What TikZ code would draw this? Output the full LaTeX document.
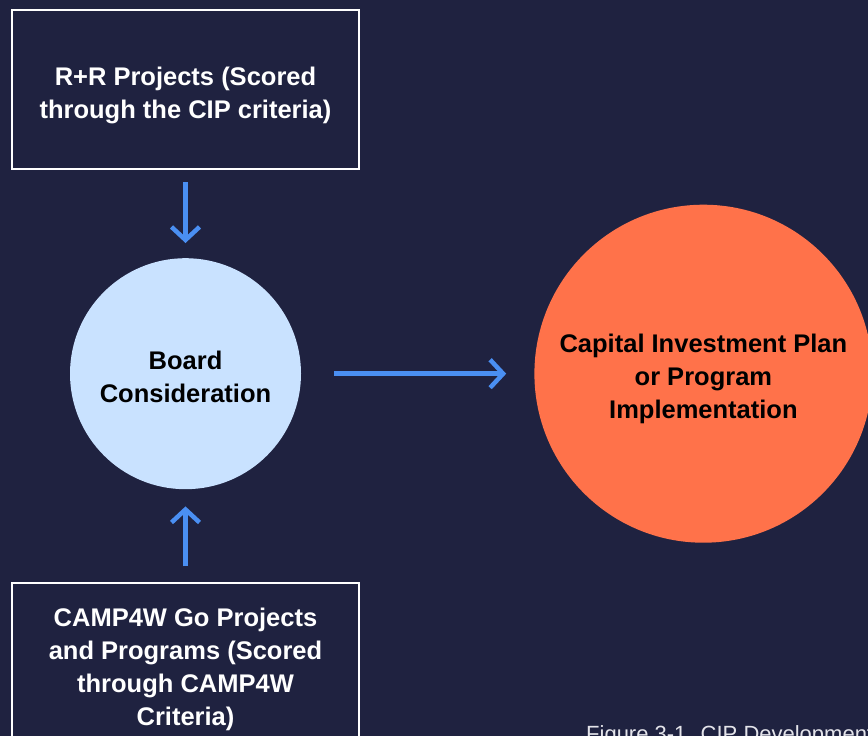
\documentclass[tikz,border=0pt]{standalone}
\usepackage{fontspec}
\setmainfont{Liberation Sans}
\usepackage{xcolor}
\usetikzlibrary{arrows.meta,positioning}
\definecolor{bgnavy}{HTML}{1F2240}
\definecolor{arrblue}{HTML}{4A8FF2}
\definecolor{boardblue}{HTML}{C9E2FF}
\definecolor{ciporange}{HTML}{FF724A}
\definecolor{capgray}{HTML}{E4E4EA}
\tikzset{
  inbox/.style={draw=white, line width=2pt, fill=bgnavy, align=center, text=white, font=\bfseries\fontsize{25.5}{33}\selectfont, minimum width=347pt, inner sep=0pt},
  stagecirc/.style={circle, align=center, text=black, font=\bfseries\fontsize{25.5}{33}\selectfont, inner sep=0pt},
  flowarr/.style={-{Straight Barb[length=13pt, width=28pt, line width=4.5pt]}, arrblue, line width=4.5pt}
}

\begin{document}
\begin{tikzpicture}[x=1pt, y=-1pt]
\fill[bgnavy] (0,0) rectangle (868,736);
\useasboundingbox (0,0) rectangle (868,736);
\clip (0,0) rectangle (868,736);
\node[inbox, minimum height=159pt, text height=63pt] (rr) at (185.5,89.5) {R+R Projects (Scored\\through the CIP criteria)};
\node[stagecirc, fill=boardblue, minimum size=231pt, text height=57pt, below=88pt of rr] (board) {Board\\Consideration};
\node[inbox, minimum height=172pt, below=93pt of board] (camp) {CAMP4W Go Projects\\and Programs (Scored\\through CAMP4W\\Criteria)};
\node[stagecirc, fill=ciporange, minimum size=338pt, text height=94pt, right=233pt of board] (cip) {Capital Investment Plan\\or Program\\Implementation};
\draw[flowarr, shorten <=12pt, shorten >=15pt] (rr) -- (board);
\draw[flowarr, shorten <=16pt, shorten >=17pt] (camp) -- (board);
\draw[flowarr, shorten <=33pt, shorten >=28pt] (board) -- (cip);
\node[anchor=base west, text=capgray, font=\fontsize{22}{26}\selectfont, inner sep=0pt] (cap) at (586,741) {Figure 3-1. CIP Development};
\end{tikzpicture}
\end{document}
